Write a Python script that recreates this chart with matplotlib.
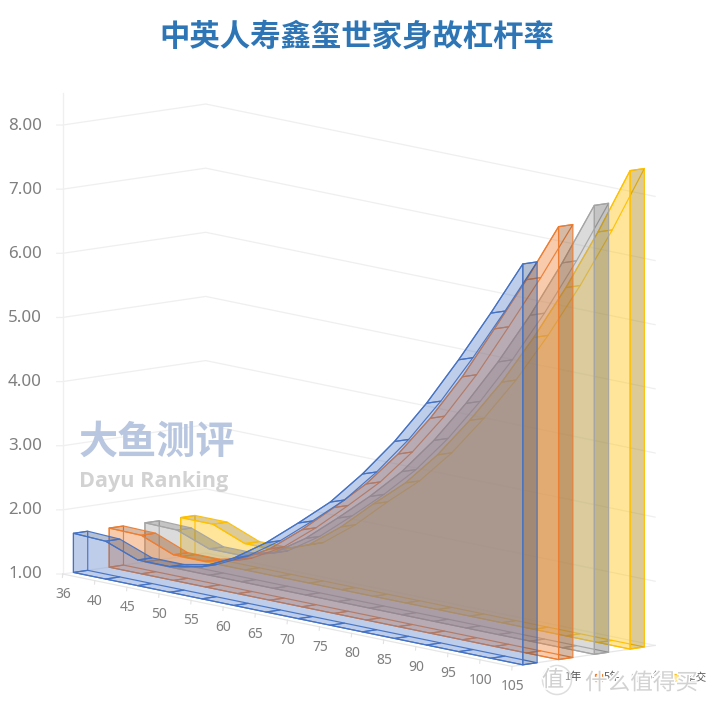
import matplotlib
matplotlib.use("Agg")
import matplotlib.pyplot as plt
import matplotlib.patheffects as pe
from matplotlib.patches import Polygon, Circle
import numpy as np

plt.rcParams['font.family'] = ['Noto Sans CJK SC', 'DejaVu Sans']

title = "中英人寿鑫玺世家身故杠杆率"
ages = ["36", "40", "45", "50", "55", "60", "65", "70", "75", "80", "85", "90", "95", "100", "105"]
yticks = [1, 2, 3, 4, 5, 6, 7, 8]
series_names = ["1年", "5年", "10年", "趸交"]
blue = [1.61, 1.59, 1.40, 1.40, 1.50, 1.74, 2.08, 2.49, 2.92, 3.46, 4.07, 4.77, 5.55, 6.38, 7.25]
orange = [1.61, 1.60, 1.40, 1.40, 1.52, 1.80, 2.20, 2.65, 3.12, 3.69, 4.35, 5.10, 5.95, 6.82, 7.75]
gray = [1.61, 1.60, 1.41, 1.41, 1.55, 1.88, 2.30, 2.74, 3.23, 3.82, 4.50, 5.25, 6.08, 7.00, 8.00]
yellow = [1.61, 1.61, 1.41, 1.41, 1.60, 1.98, 2.44, 2.87, 3.41, 4.05, 4.75, 5.55, 6.43, 7.40, 8.46]
colors = ["#4472C4", "#ED7D31", "#A5A5A5", "#FFC000"]
alphas = [0.35, 0.4, 0.4, 0.4]
series = [blue, orange, gray, yellow]

# oblique projection of (category, value, depth) to the canvas
O = np.array([62.7, 574.0])
EX = np.array([32.1, 6.6])      # per category
EY = np.array([0.0, -64.14])    # per value unit
EZ = np.array([35.75, -5.25])   # per series slot
N = len(ages)

def P(i, v, z):
    return O + i * EX + (v - 1) * EY + z * EZ

fig = plt.figure(figsize=(7.09, 7.08), dpi=100)
ax = fig.add_axes([0, 0, 1, 1])
ax.set_xlim(0, 709)
ax.set_ylim(708, 0)
ax.axis("off")

gridc = "#EFEFEF"
ax.plot(*zip(P(0, 1, 0), P(0, 8.5, 0)), color=gridc, lw=0.9, zorder=1)
for v in yticks:
    a = P(0, v, 0); b = P(0, v, 4); c = P(N - 1, v, 4)
    a0 = a + np.array([-6, 0.0])
    ax.plot([a0[0], a[0], b[0], c[0]], [a0[1], a[1], b[1], c[1]], color=gridc, lw=0.9, zorder=1)
    ax.text(41.8, a[1] + 0.5, f"{v:.2f}", ha="right", va="center", color="#7F7F7F", fontsize=12.2,
            family="Noto Sans")
f0 = P(0, 1, 0); f1 = P(N - 1, 1, 0); f2 = P(N - 1, 1, 4)
ax.plot([f0[0], f1[0], f2[0]], [f0[1], f1[1], f2[1]], color="#E6E6E6", lw=0.9, zorder=1)
for i, lab in enumerate(ages):
    p = P(i, 1, 0)
    ax.plot([p[0], p[0] - 0.3], [p[1], p[1] + 3.5], color="#E2E2E2", lw=0.8, zorder=1)
    ax.text(p[0] + 0.3, p[1] + 20.5, lab, ha="center", va="center", color="#7F7F7F", fontsize=10,
            family="Noto Sans")


def shade(hexc, k):
    r, g, b, _ = matplotlib.colors.to_rgba(hexc)
    return (r * k, g * k, b * k)

def face(pts, col, ec, z, alpha):
    fc = (*col, alpha) if col is not None else "none"
    ax.add_patch(Polygon(np.array(pts), closed=True, facecolor=fc, edgecolor=ec,
                         lw=0.85, zorder=z, joinstyle="round"))

# the ribbon's upper side faces the viewer only while the rise stays under this step
VISIBLE_RISE = 0.176

z = 2
for s in range(3, -1, -1):
    vals = series[s]
    col = colors[s]
    al = alphas[s]
    base = shade(col, 1.0)
    dark = shade(col, 0.66)
    ec = (*base, 0.95)
    z0, z1 = s + 0.3, s + 0.7
    for i in range(N - 1):
        face([P(i, 1, z0), P(i + 1, 1, z0), P(i + 1, 1, z1), P(i, 1, z1)], None, ec, z, al)
    face([P(0, 1, z0), P(0, vals[0], z0), P(0, vals[0], z1), P(0, 1, z1)], None, ec, z, al)
    for i in range(N - 1):
        k = dark if vals[i + 1] - vals[i] < VISIBLE_RISE else None
        face([P(i, vals[i], z0), P(i + 1, vals[i + 1], z0), P(i + 1, vals[i + 1], z1), P(i, vals[i], z1)],
             k, ec, z, al)
    e = N - 1
    face([P(e, 1, z0), P(e, vals[e], z0), P(e, vals[e], z1), P(e, 1, z1)], dark, ec, z, al)
    pts = [P(0, 1, z0)] + [P(i, vals[i], z0) for i in range(N)] + [P(e, 1, z0)]
    face(pts, base, ec, z, al)
    z += 1

ax.text(356.5, 37, title, ha="center", va="center", fontsize=21.9, fontweight="bold", color="#2E75B6", zorder=20)
ax.text(157, 442, "大鱼测评", ha="center", va="center", fontsize=28.2, fontweight="bold", color="#B8C6E0", zorder=20)
ax.text(154, 481, "Dayu Ranking", ha="center", va="center", fontsize=15.6, fontweight="bold", color="#D2D2D2",
        family="Open Sans", zorder=20)

# legend
leg_x = [555, 598, 635, 675]
txt_x = [564, 604, 640, 685]
for x, tx, name, c in zip(leg_x, txt_x, series_names, colors):
    ax.add_patch(Polygon([[x - 3.5, 673.5], [x + 3.5, 673.5], [x + 3.5, 680.5], [x - 3.5, 680.5]], closed=True,
                         facecolor=(*matplotlib.colors.to_rgb(c), 0.4), edgecolor=c, lw=0.9, zorder=21))
    ax.text(tx, 677, name, ha="left", va="center", fontsize=8, color="#595959", zorder=21)

# site stamp over the legend
stroke = [pe.withStroke(linewidth=2.2, foreground="white")]
ax.add_patch(Circle((557, 680), 14.5, facecolor=(1, 1, 1, 0.3), edgecolor="#DEDEDE", lw=1.1, zorder=22))
ax.text(553, 680, "值", ha="center", va="center", fontsize=16, color="#CFCFCF", zorder=23, path_effects=stroke)
ax.text(641.5, 683, "什么值得买", ha="center", va="center", fontsize=16.3, color="#D2D2D2", zorder=23, path_effects=stroke)

fig.savefig("out.png", dpi=100)
